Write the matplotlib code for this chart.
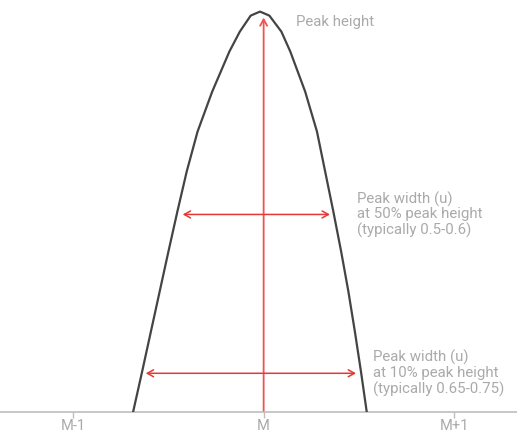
import matplotlib
matplotlib.use("Agg")
import matplotlib.pyplot as plt

# Peak curve (x in mass units relative to M, y as fraction of peak height)
curve_x = [-0.685, -0.638, -0.592, -0.546, -0.500, -0.453, -0.404, -0.347, -0.270,
           -0.180, -0.125, -0.068, -0.019, 0.030, 0.093, 0.140, 0.218, 0.280,
           0.323, 0.366, 0.407, 0.445, 0.479, 0.511, 0.541]
curve_y = [0.0, 0.1, 0.2, 0.3, 0.4, 0.5, 0.6, 0.7, 0.8,
           0.9, 0.95, 0.99, 1.0, 0.99, 0.95, 0.9, 0.8, 0.7,
           0.6, 0.5, 0.4, 0.3, 0.2, 0.1, 0.0]

tick_pos = [-1, 0, 1]
tick_labels = ["M-1", "M", "M+1"]

width50 = (-0.425, 0.348, 0.493)
width10 = (-0.619, 0.485, 0.096)
peak_arrow_top = 0.985

label_peak = "Peak height"
label_50 = "Peak width (u)\nat 50% peak height\n(typically 0.5-0.6)"
label_10 = "Peak width (u)\nat 10% peak height\n(typically 0.65-0.75)"

plt.rcParams['font.family'] = ['Roboto', 'DejaVu Sans']
TXT = '#aaaaaa'
RED = '#e53935'

fig = plt.figure(figsize=(5.17, 4.32), dpi=100)
ax = fig.add_axes([0, 0.047, 1, 0.953])
ax.set_xlim(-1.384, 1.33)
ax.set_ylim(0, 1.029)

ax.plot(curve_x, curve_y, color='#444444', lw=1.6, solid_joinstyle='round', zorder=3)

# vertical peak arrow
ax.annotate('', xy=(0, peak_arrow_top), xytext=(0, 0),
            arrowprops=dict(arrowstyle='->,head_length=0.45,head_width=0.25',
                            color='#ef5350', lw=1.3, shrinkA=0, shrinkB=0), zorder=2)
for (x0, x1, yy) in (width50, width10):
    ax.annotate('', xy=(x1, yy), xytext=(x0, yy),
                arrowprops=dict(arrowstyle='<->,head_length=0.45,head_width=0.25',
                                color=RED, lw=1.1, shrinkA=0, shrinkB=0), zorder=2)

fs = 10.8
ax.text(0.168, 0.975, label_peak, color=TXT, fontsize=fs, va='center', ha='left')
ax.text(0.489, 0.493, label_50, color=TXT, fontsize=fs, va='center', ha='left',
        linespacing=1.08)
ax.text(0.576, 0.096, label_10, color=TXT, fontsize=fs, va='center', ha='left',
        linespacing=1.08)

for s in ['top', 'right', 'left']:
    ax.spines[s].set_visible(False)
ax.spines['bottom'].set_color('#bdbdbd')
ax.spines['bottom'].set_linewidth(1.2)
ax.set_yticks([])
ax.set_xticks(tick_pos)
ax.set_xticklabels(tick_labels)
ax.tick_params(axis='x', colors='#bdbdbd', labelcolor=TXT, labelsize=10.5,
               length=4, width=1.0, pad=1)

fig.savefig('out.png', dpi=100)
